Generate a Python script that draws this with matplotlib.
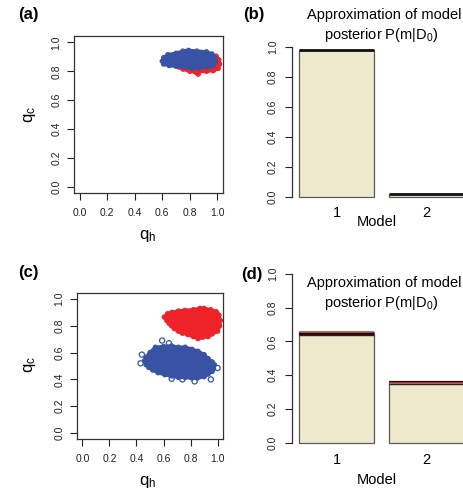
import matplotlib
matplotlib.use("Agg")
import matplotlib.pyplot as plt
from matplotlib.patches import Polygon

plt.rcParams["font.family"] = ["Liberation Sans", "DejaVu Sans"]
plt.rcParams["mathtext.default"] = "regular"

RED = "#ee2229"
BLUE = "#3953a4"
BEIGE = "#eee8cd"

# -------------------------------------------------------------------------------------
# Data
# -------------------------------------------------------------------------------------
ticks = [0.0, 0.2, 0.4, 0.6, 0.8, 1.0]
tick_labels = ["0.0", "0.2", "0.4", "0.6", "0.8", "1.0"]

# (a) outline of the posterior clouds (q_h, q_c)
a_red_qh = [0.70, 0.75, 0.85, 0.95, 0.99, 1.01, 1.015, 1.005, 0.97, 0.92, 0.87, 0.86, 0.84, 0.80, 0.75, 0.72]
a_red_qc = [0.86, 0.90, 0.915, 0.91, 0.905, 0.88, 0.85, 0.82, 0.805, 0.80, 0.80, 0.78, 0.795, 0.80, 0.815, 0.83]
a_blue_qh = [0.60, 0.61, 0.64, 0.70, 0.75, 0.79, 0.85, 0.92, 0.96, 0.98, 0.985, 0.97, 0.93, 0.87, 0.82, 0.76, 0.70, 0.65, 0.61]
a_blue_qc = [0.87, 0.895, 0.915, 0.925, 0.94, 0.945, 0.94, 0.935, 0.92, 0.895, 0.865, 0.84, 0.83, 0.825, 0.82, 0.83, 0.835, 0.84, 0.85]

# (c) outline of the posterior clouds plus stray points
c_red_qh = [0.606, 0.63, 0.662, 0.71, 0.758, 0.82, 0.87, 0.90, 0.95, 0.99, 1.01, 1.02, 1.015, 1.0,
            0.96, 0.93, 0.89, 0.855, 0.82, 0.78, 0.74, 0.71, 0.68, 0.66, 0.64, 0.625]
c_red_qc = [0.865, 0.89, 0.90, 0.91, 0.915, 0.92, 0.93, 0.93, 0.92, 0.905, 0.88, 0.84, 0.80, 0.76,
            0.74, 0.72, 0.715, 0.705, 0.72, 0.735, 0.745, 0.76, 0.78, 0.80, 0.82, 0.84]
c_blue_qh = [0.47, 0.50, 0.54, 0.60, 0.66, 0.71, 0.76, 0.81, 0.855, 0.90, 0.93, 0.96, 0.976, 0.97,
             0.96, 0.93, 0.90, 0.85, 0.81, 0.76, 0.71, 0.66, 0.61, 0.56, 0.52, 0.49, 0.47, 0.46]
c_blue_qc = [0.565, 0.60, 0.64, 0.645, 0.65, 0.64, 0.64, 0.625, 0.61, 0.585, 0.555, 0.53, 0.51, 0.48,
             0.46, 0.44, 0.42, 0.41, 0.41, 0.415, 0.415, 0.425, 0.435, 0.45, 0.47, 0.49, 0.51, 0.54]
c_blue_out_qh = [0.44, 0.43, 0.59, 0.64, 1.0, 0.95, 0.83, 0.66, 0.74]
c_blue_out_qc = [0.585, 0.52, 0.69, 0.67, 0.485, 0.40, 0.385, 0.405, 0.40]

# model posterior P(m|D0)
models = ["1", "2"]
bar_pos = [0.7, 1.9]
b_post = [0.98, 0.02]
d_post_black = [0.645, 0.36]
d_post_red = [0.655, 0.352]
d_post_black2 = [0.64, 0.345]

W, H = 464, 493
fig = plt.figure(figsize=(W / 100, H / 100), dpi=100)


def px_axes(left, top, right, bottom):
    return fig.add_axes([left / W, 1 - bottom / H, (right - left) / W, (bottom - top) / H])


def cloud(ax, qh, qc, color, z):
    ax.add_patch(Polygon(list(zip(qh, qc)), closed=True, facecolor=color, edgecolor=color,
                         lw=2.5, joinstyle="round", zorder=z))
    ax.scatter(qh, qc, s=9, facecolors="none", edgecolors=color, linewidths=0.9, zorder=z + 0.1)


def scatter_panel(top, bottom, left, right, clouds, ytxt, label):
    ax = px_axes(left, top, right, bottom)
    for i, (qh, qc, color) in enumerate(clouds):
        cloud(ax, qh, qc, color, 2 + i)
    ax.set_xlim(-0.04, 1.04)
    ax.set_ylim(-0.045, 1.045)
    ax.set_xticks(ticks)
    ax.set_xticklabels(tick_labels)
    ax.set_yticks(ticks)
    ax.set_yticklabels(tick_labels, rotation=90, va="center")
    ax.tick_params(labelsize=7.5, length=5, width=0.8, colors="#222222")
    ax.tick_params(axis="x", pad=6)
    ax.tick_params(axis="y", pad=4)
    for s in ax.spines.values():
        s.set_linewidth(0.9)
        s.set_color("#333333")
    fig.text(30 / W, 1 - ytxt / H, r"q$_\mathregular{c}$", fontsize=12,
             rotation=90, ha="center", va="center")
    fig.text(148 / W, 1 - (bottom + 43) / H, r"q$_\mathregular{h}$", fontsize=12,
             ha="center", va="center")
    fig.text(label[0] / W, 1 - label[1] / H, label[2], fontsize=12, fontweight="bold",
             ha="center", va="center")
    return ax


scatter_panel(36, 193, 74, 223,
              [(a_red_qh, a_red_qc, RED), (a_blue_qh, a_blue_qc, BLUE)],
              115, (28, 15, "(a)"))
axc = scatter_panel(293, 439, 77, 223,
                    [(c_red_qh, c_red_qc, RED), (c_blue_qh, c_blue_qc, BLUE)],
                    365, (28, 273, "(c)"))
axc.scatter(c_blue_out_qh, c_blue_out_qc, s=14, facecolors="none", edgecolors=BLUE,
            linewidths=0.9, zorder=5)


def bar_panel(y0, y1, tops, ticks_y, model_y, title_y, label):
    # y0 = pixel of 0.0, y1 = pixel of 1.0
    unit = y0 - y1
    ax = px_axes(292, y1 - 0.04 * unit, 292 + 2.376 * 75, y0 + 0.04 * unit)
    heights = [max(v) for v in zip(*[t[0] for t in tops])]
    ax.bar(bar_pos, heights, width=1.0, color=BEIGE, edgecolor="#5a5a5a", linewidth=0.9)
    for vals, color, lw in tops:
        for x, v in zip(bar_pos, vals):
            ax.hlines(v, x - 0.5, x + 0.5, colors=color, linewidth=lw, zorder=3)
    ax.set_xlim(0.112, 2.488)
    ax.set_ylim(-0.04, 1.04)
    for s in ["top", "right", "bottom"]:
        ax.spines[s].set_visible(False)
    ax.spines["left"].set_bounds(0, 1)
    ax.spines["left"].set_linewidth(0.9)
    ax.spines["left"].set_color("#333333")
    ax.set_yticks(ticks)
    ax.set_yticklabels(tick_labels, rotation=90, va="center")
    ax.tick_params(axis="y", labelsize=7.5, length=5, width=0.8, pad=5, colors="#222222")
    ax.set_xticks([])
    for x, m in zip(bar_pos, models):
        fig.text((299 + (x - 0.2) * 75) / W, 1 - ticks_y / H, m, fontsize=10.5,
                 ha="center", va="center")
    fig.text(377 / W, 1 - model_y / H, "Model", fontsize=10.5, ha="center", va="center")
    fig.text(384 / W, 1 - title_y / H, "Approximation of model", fontsize=10.5,
             ha="center", va="center")
    fig.text(381 / W, 1 - (title_y + 20) / H, r"posterior P(m|D$_0$)", fontsize=10.5,
             ha="center", va="center")
    fig.text(label[0] / W, 1 - label[1] / H, label[2], fontsize=12, fontweight="bold",
             ha="center", va="center")


bar_panel(197, 47, [(b_post, "#111111", 2.0)], 213, 222, 15, (254, 15, "(b)"))
bar_panel(442.7, 274,
          [(d_post_black, "#111111", 1.6), (d_post_black2, "#222222", 1.0),
           (d_post_red, "#d9393b", 1.1)],
          460, 480, 283, (252, 275, "(d)"))

fig.savefig("out.png", dpi=100)
